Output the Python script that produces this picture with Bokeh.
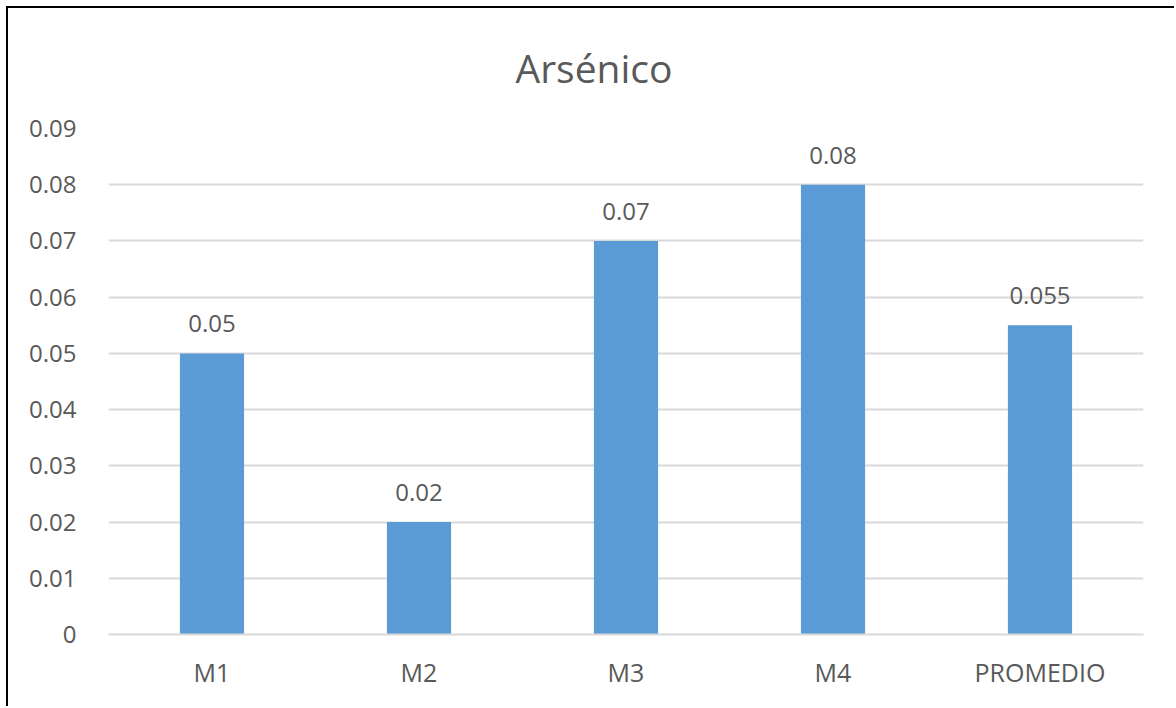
from bokeh.plotting import figure
from bokeh.models import (ColumnDataSource, LabelSet, FixedTicker,
                          NumeralTickFormatter)
from bokeh.core.properties import value
from bokeh.embed import file_html
from bokeh.resources import INLINE

# Arsenic concentration per sample and the average
categories = ["M1", "M2", "M3", "M4", "PROMEDIO"]
values = [0.05, 0.02, 0.07, 0.08, 0.055]
value_labels = ["0.05", "0.02", "0.07", "0.08", "0.055"]
y_ticks = [0.0, 0.01, 0.02, 0.03, 0.04, 0.05, 0.06, 0.07, 0.08, 0.09]
title_text = "Arsénico"

FONT = "Open Sans"
GREY_TEXT = "#595959"
GRID = "#d9d9d9"
BAR = "#5b9bd5"

source = ColumnDataSource(dict(cat=categories, val=values, lbl=value_labels))

p = figure(
    x_range=categories,
    y_range=(0, 0.09),
    width=1168,
    height=700,
    output_backend="svg",
    toolbar_location=None,
    min_border_left=100,
    min_border_right=33,
    min_border_top=120,
    min_border_bottom=74,
    title=title_text,
)
p.margin = (6, 0, 0, 6)
p.styles = {"border-left": "2px solid #000000", "border-top": "2px solid #000000"}

p.vbar(x="cat", top="val", width=0.31, source=source, fill_color=BAR, line_color=None)

labels = LabelSet(x="cat", y="val", text="lbl", source=source, y_offset=21,
                  text_align="center", text_baseline="bottom",
                  text_font=value(FONT), text_font_size="24px", text_color=GREY_TEXT)
p.add_layout(labels)

# the title is centred on the whole chart rather than on the plot frame
p.title.align = "left"
p.title.offset = 407
p.title.vertical_align = "top"
p.title.standoff = 65
p.title.text_font = FONT
p.title.text_font_size = "39px"
p.title.text_font_style = "normal"
p.title.text_color = GREY_TEXT

p.outline_line_color = None
p.background_fill_color = "white"
p.border_fill_color = "white"

p.xgrid.grid_line_color = None
p.ygrid.grid_line_color = GRID
p.ygrid.grid_line_width = 2
p.yaxis.ticker = FixedTicker(ticks=y_ticks)
p.yaxis.formatter = NumeralTickFormatter(format="0.[00]")

for ax in (p.xaxis, p.yaxis):
    ax.major_label_text_font = FONT
    ax.major_label_text_font_size = "24px"
    ax.major_label_text_color = GREY_TEXT
    ax.major_tick_line_color = None
    ax.minor_tick_line_color = None

p.yaxis.axis_line_color = None
p.yaxis.major_label_standoff = 26
p.xaxis.axis_line_color = GRID
p.xaxis.axis_line_width = 2
p.xaxis.major_label_standoff = 14
p.xaxis.major_label_text_font_size = "25px"
p.x_range.range_padding = 0

open("out.html", "w").write(file_html(p, INLINE))
